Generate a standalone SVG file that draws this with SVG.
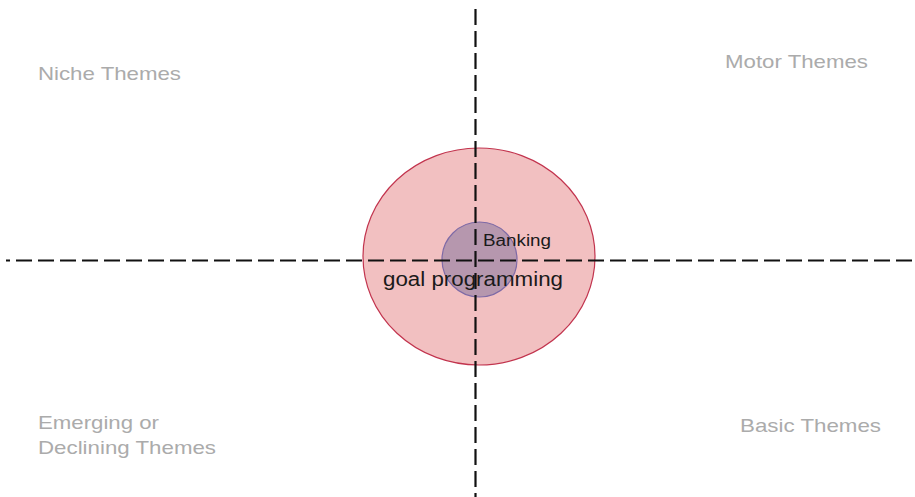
<svg xmlns="http://www.w3.org/2000/svg" width="915" height="497" viewBox="0 0 915 497">
  <style>
    .quad { font-family: "Liberation Sans", Arial, sans-serif; font-size: 19px; fill: #ababab; }
    .lbl { font-family: "Liberation Sans", Arial, sans-serif; fill: #1a1a1a; }
    .axis { stroke: #111; stroke-width: 2.2; stroke-dasharray: 16 6; fill: none; }
  </style>
  <rect width="915" height="497" fill="#ffffff"/>

  <g id="cluster-goal-programming">
    <ellipse cx="479" cy="256.5" rx="116" ry="108.5" fill="#f2c0c1" stroke="#c2344e" stroke-width="1.2"/>
  </g>
  <g id="cluster-banking">
    <circle cx="479.5" cy="259.5" r="37.5" fill="#b697ae" stroke="#7e6aa6" stroke-width="1.2"/>
  </g>

  <g id="labels">
    <text class="lbl" x="483" y="246" font-size="16" textLength="68" lengthAdjust="spacingAndGlyphs">Banking</text>
    <text class="lbl" x="383" y="286" font-size="20" textLength="180" lengthAdjust="spacingAndGlyphs">goal programming</text>
  </g>

  <g id="axes">
    <line class="axis" x1="475.5" y1="9" x2="475.5" y2="497"/>
    <line class="axis" x1="6" y1="260.5" x2="912" y2="260.5" stroke-dashoffset="12"/>
  </g>

  <g id="quadrant-labels">
    <text class="quad" x="38" y="80" textLength="143" lengthAdjust="spacingAndGlyphs">Niche Themes</text>
    <text class="quad" x="725" y="68" textLength="143" lengthAdjust="spacingAndGlyphs">Motor Themes</text>
    <text class="quad" x="38" y="429" textLength="121" lengthAdjust="spacingAndGlyphs">Emerging or</text>
    <text class="quad" x="38" y="454" textLength="178" lengthAdjust="spacingAndGlyphs">Declining Themes</text>
    <text class="quad" x="740" y="432" textLength="141" lengthAdjust="spacingAndGlyphs">Basic Themes</text>
  </g>
</svg>
